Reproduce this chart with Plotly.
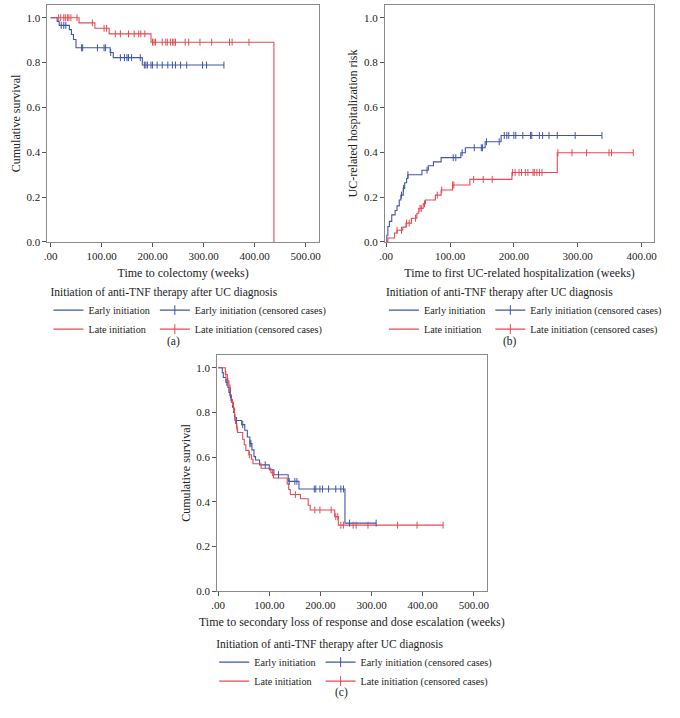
import plotly.graph_objects as go

# ---------------- data ----------------
x_tick_vals = [0, 100, 200, 300, 400, 500]
x_tick_text = [".00", "100.00", "200.00", "300.00", "400.00", "500.00"]
y_tick_vals = [0, 0.2, 0.4, 0.6, 0.8, 1.0]
y_tick_text = ["0.0", "0.2", "0.4", "0.6", "0.8", "1.0"]

# (a) time to colectomy
a_early_t = [0, 13, 17, 37, 41, 45, 50, 117, 123, 180]
a_early_s = [1.0, 0.984, 0.966, 0.947, 0.925, 0.903, 0.866, 0.845, 0.822, 0.789]
a_early_cens = [21, 26, 30, 61, 63, 92, 105, 108, 118, 137, 145, 150, 153, 159, 176,
                184, 187, 190, 197, 200, 209, 219, 230, 239, 245, 255, 267, 298, 306, 340]
a_late_t = [0, 56, 87, 115, 197, 438]
a_late_s = [1.0, 0.977, 0.953, 0.928, 0.891, 0.0]
a_late_cens = [16, 20, 26, 29, 33, 36, 40, 52, 82, 105, 110, 127, 137, 153, 164, 173, 177,
               185, 200, 203, 206, 219, 226, 229, 235, 239, 242, 245, 264, 271, 293, 316,
               351, 356, 389]

# (b) first UC-related hospitalization
b_early_t = [0, 1, 2.6, 5, 8.7, 14, 17, 20.5, 23, 26.7, 29, 32, 34, 56, 66, 74, 86, 117,
             124, 155, 180]
b_early_s = [0, 0.03, 0.069, 0.092, 0.121, 0.140, 0.161, 0.187, 0.209, 0.239, 0.264,
             0.283, 0.30, 0.32, 0.34, 0.357, 0.376, 0.398, 0.42, 0.447, 0.475]
b_early_cens = [24, 27, 34, 64, 105, 109, 119, 138, 149, 151, 157, 177, 185, 189, 192,
                200, 203, 214, 226, 228, 240, 245, 255, 268, 296, 338]
b_late_t = [0, 2.6, 13, 17, 26, 31, 39.5, 48, 51, 58, 61.5, 77, 86, 104, 131, 197, 268]
b_late_s = [0, 0.018, 0.04, 0.052, 0.066, 0.084, 0.106, 0.128, 0.150, 0.170, 0.187,
            0.209, 0.232, 0.254, 0.279, 0.310, 0.398]
b_late_cens = [17, 24, 32, 36, 46, 53, 55, 60, 80, 87, 104, 106, 137, 152, 166, 198, 202,
               208, 212, 218, 222, 230, 232, 236, 240, 244, 269, 291, 314, 349, 353, 387]

# (c) secondary loss of response and dose escalation
c_early_t = [0, 8, 10, 15, 19, 21, 24, 26, 28, 30, 32, 33, 46, 52, 57, 62, 66, 70, 73,
             81, 100, 109, 137, 158, 248]
c_early_s = [1.0, 0.978, 0.956, 0.934, 0.912, 0.889, 0.867, 0.845, 0.823, 0.80, 0.779,
             0.764, 0.745, 0.72, 0.69, 0.66, 0.632, 0.602, 0.587, 0.565, 0.543, 0.521,
             0.491, 0.457, 0.304]
c_early_cens = [17, 23, 25, 36, 48, 62, 64, 92, 118, 139, 150, 154, 188, 191, 199, 204,
                216, 230, 240, 245, 257, 309]
c_late_t = [0, 14, 18, 21, 24, 26, 30, 32, 33, 34, 36, 38, 48, 51, 54, 60, 65, 68, 84,
            103, 108, 135, 138, 141, 161, 176, 180, 228, 235]
c_late_s = [1.0, 0.97, 0.94, 0.91, 0.875, 0.845, 0.82, 0.79, 0.77, 0.75, 0.73, 0.71,
            0.68, 0.655, 0.63, 0.61, 0.59, 0.57, 0.55, 0.53, 0.506, 0.48, 0.455, 0.432,
            0.413, 0.384, 0.363, 0.333, 0.295]
c_late_cens = [15, 19, 23, 28, 30, 37, 61, 106, 151, 189, 199, 221, 230, 234, 240, 245,
               264, 270, 293, 351, 389, 440]

x_titles = ["Time to colectomy (weeks)",
            "Time to first UC-related hospitalization (weeks)",
            "Time to secondary loss of response and dose escalation (weeks)"]
y_titles = ["Cumulative survival", "UC-related hospitalization risk", "Cumulative survival"]
legend_title = "Initiation of anti-TNF therapy after UC diagnosis"
series_names = ["Early initiation", "Late initiation"]
censor_names = ["Early initiation (censored cases)", "Late initiation (censored cases)"]
panel_labels = ["(a)", "(b)", "(c)"]

# ---------------- styling ----------------
BLUE = "#3f56a6"
RED = "#e64a52"
FONT = "Liberation Serif"
W, H = 680, 718


def step_at(ts, ss, t):
    v = ss[0]
    for ti, si in zip(ts, ss):
        if ti <= t:
            v = si
    return v


def extended(ts, ss, cens):
    ts2, ss2 = list(ts), list(ss)
    if cens and max(cens) > ts2[-1]:
        ts2.append(max(cens))
        ss2.append(ss2[-1])
    return ts2, ss2


panels = [
    (a_early_t, a_early_s, a_early_cens, a_late_t, a_late_s, a_late_cens),
    (b_early_t, b_early_s, b_early_cens, b_late_t, b_late_s, b_late_cens),
    (c_early_t, c_early_s, c_early_cens, c_late_t, c_late_s, c_late_cens),
]

# pixel geometry of the three plot boxes: (left, right, top, bottom)
boxes = [(42, 317, 5, 244), (384, 657, 5, 244), (214, 487, 358, 596)]
x_ranges = [[-6, 526], [-2, 420], [-2, 525]]
legend_pos = [(43, 283), (383, 283), (211, 638)]
label_pos = [(170, 344), (511, 344), (340, 698)]

fig = go.Figure()
for i, (et, es, ec, lt, ls, lc) in enumerate(panels):
    sfx = "" if i == 0 else str(i + 1)
    xa, ya = "x" + sfx, "y" + sfx
    leg = "legend" + sfx
    for (t, s, c, color, name) in [
        (et, es, ec, BLUE, series_names[0]),
        (lt, ls, lc, RED, series_names[1]),
    ]:
        tx, sy = extended(t, s, c)
        fig.add_trace(go.Scatter(x=tx, y=sy, mode="lines", line=dict(color=color, width=1.1, shape="hv"),
                                 name=name, xaxis=xa, yaxis=ya, legend=leg, legendgroup="lines",
                                 showlegend=True, hoverinfo="skip"))
    for (t, s, c, color, cname) in [
        (et, es, ec, BLUE, censor_names[0]),
        (lt, ls, lc, RED, censor_names[1]),
    ]:
        fig.add_trace(go.Scatter(x=c, y=[step_at(t, s, v) for v in c], mode="markers",
                                 marker=dict(symbol="line-ns-open", size=5, color=color,
                                             line=dict(color=color, width=1)),
                                 xaxis=xa, yaxis=ya, showlegend=False, hoverinfo="skip"))
        fig.add_trace(go.Scatter(x=[None], y=[None], mode="lines+markers",
                                 line=dict(color=color, width=1.1),
                                 marker=dict(symbol="line-ns-open", size=7, color=color,
                                             line=dict(color=color, width=1)),
                                 name=cname, xaxis=xa, yaxis=ya, legend=leg,
                                 legendgroup="cens", showlegend=True))

layout = dict(width=W, height=H, margin=dict(l=0, r=0, t=0, b=0),
              paper_bgcolor="white", plot_bgcolor="white",
              font=dict(family=FONT, size=11, color="#222"), annotations=[])
for i in range(3):
    sfx = "" if i == 0 else str(i + 1)
    l, r, t, b = boxes[i]
    axis_common = dict(showline=True, linecolor="#8a8a8a", linewidth=1, mirror=True,
                       showgrid=False, zeroline=False, ticks="outside", ticklen=4,
                       tickcolor="#555", tickfont=dict(family=FONT, size=11, color="#222"))
    layout["xaxis" + sfx] = dict(axis_common, domain=[l / W, r / W], range=x_ranges[i],
                                 tickvals=x_tick_vals, ticktext=x_tick_text,
                                 anchor="y" + sfx,
                                 title=dict(text=x_titles[i], standoff=7,
                                            font=dict(family=FONT, size=12, color="#222")))
    layout["yaxis" + sfx] = dict(axis_common, domain=[1 - b / H, 1 - t / H],
                                 range=[0, 1.057], tickvals=y_tick_vals, ticktext=y_tick_text,
                                 anchor="x" + sfx,
                                 title=dict(text=y_titles[i], standoff=3,
                                            font=dict(family=FONT, size=12, color="#222")))
    lx, ly = legend_pos[i]
    layout["legend" + sfx] = dict(x=lx / W, y=1 - ly / H, xanchor="left", yanchor="top",
                                  orientation="h", traceorder="grouped", itemwidth=30,
                                  tracegroupgap=0, bgcolor="rgba(0,0,0,0)",
                                  font=dict(family=FONT, size=10.2, color="#222"),
                                  title=dict(text=legend_title, side="top",
                                             font=dict(family=FONT, size=11.5, color="#222")))
    px, py = label_pos[i]
    layout["annotations"].append(dict(text=panel_labels[i], x=px / W, y=1 - py / H,
                                      xref="paper", yref="paper", showarrow=False,
                                      xanchor="center", yanchor="middle",
                                      font=dict(family=FONT, size=11.5, color="#222")))
fig.update_layout(**layout)
fig.write_html("out.html", config={"displayModeBar": False},
               post_script="document.body.style.margin='0';")
